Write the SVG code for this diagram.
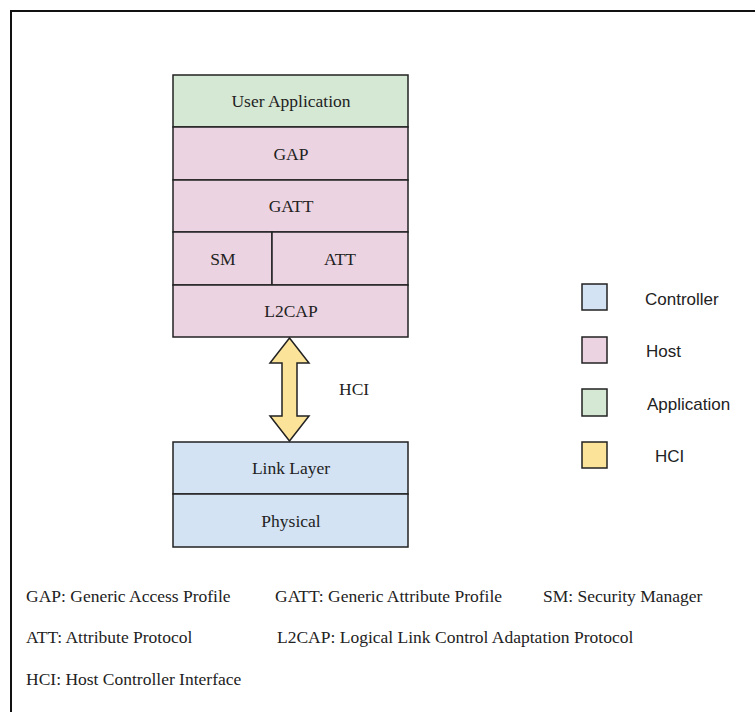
<svg xmlns="http://www.w3.org/2000/svg" width="755" height="712" viewBox="0 0 755 712">
<style>
.b{stroke:#222;stroke-width:1.5}
.app{fill:#d5e8d4}
.host{fill:#ecd3e1}
.ctl{fill:#d3e3f4}
.hci{fill:#fbe39a}
.t{font-family:"Liberation Serif",serif;font-size:17.5px;fill:#222;text-anchor:middle}
.n{font-family:"Liberation Serif",serif;font-size:17.5px;fill:#222}
.l{font-family:"Liberation Sans",sans-serif;font-size:17px;fill:#222}
</style>
<rect width="755" height="712" fill="#fff"/>
<path d="M11 712 V11 H755" fill="none" stroke="#111" stroke-width="2"/>
<g id="user-application"><rect class="b app" x="173" y="75" width="235" height="52"/><text class="t" x="291" y="107">User Application</text></g>
<g id="gap"><rect class="b host" x="173" y="127" width="235" height="53"/><text class="t" x="291" y="160">GAP</text></g>
<g id="gatt"><rect class="b host" x="173" y="180" width="235" height="52"/><text class="t" x="291" y="212">GATT</text></g>
<g id="sm"><rect class="b host" x="173" y="232" width="99" height="53"/><text class="t" x="223" y="265">SM</text></g>
<g id="att"><rect class="b host" x="272" y="232" width="136" height="53"/><text class="t" x="340" y="265">ATT</text></g>
<g id="l2cap"><rect class="b host" x="173" y="285" width="235" height="52"/><text class="t" x="291" y="317">L2CAP</text></g>
<g id="link-layer"><rect class="b ctl" x="173" y="442" width="235" height="52"/><text class="t" x="291" y="474">Link Layer</text></g>
<g id="physical"><rect class="b ctl" x="173" y="494" width="235" height="53"/><text class="t" x="291" y="527">Physical</text></g>
<g id="connectors">
<path class="b hci" d="M289.5 338 L309 363 L297 363 L297 416 L309 416 L289.5 441 L270 416 L282 416 L282 363 L270 363 Z" stroke-linejoin="miter"/>
<text class="n" x="339" y="395">HCI</text>
</g>
<g id="legend">
<rect class="b ctl" x="582" y="284" width="25" height="26"/><text class="l" x="645" y="305">Controller</text>
<rect class="b host" x="582" y="337" width="25" height="26"/><text class="l" x="646" y="357">Host</text>
<rect class="b app" x="582" y="389" width="25" height="27"/><text class="l" x="647" y="410">Application</text>
<rect class="b hci" x="582" y="442" width="25" height="26"/><text class="l" x="655" y="462">HCI</text>
</g>
<g id="abbreviations">
<text class="n" x="26" y="602">GAP: Generic Access Profile</text>
<text class="n" x="275" y="602">GATT: Generic Attribute Profile</text>
<text class="n" x="543" y="602">SM: Security Manager</text>
<text class="n" x="26" y="643">ATT: Attribute Protocol</text>
<text class="n" x="277" y="643">L2CAP: Logical Link Control Adaptation Protocol</text>
<text class="n" x="26" y="685">HCI: Host Controller Interface</text>
</g>
</svg>
